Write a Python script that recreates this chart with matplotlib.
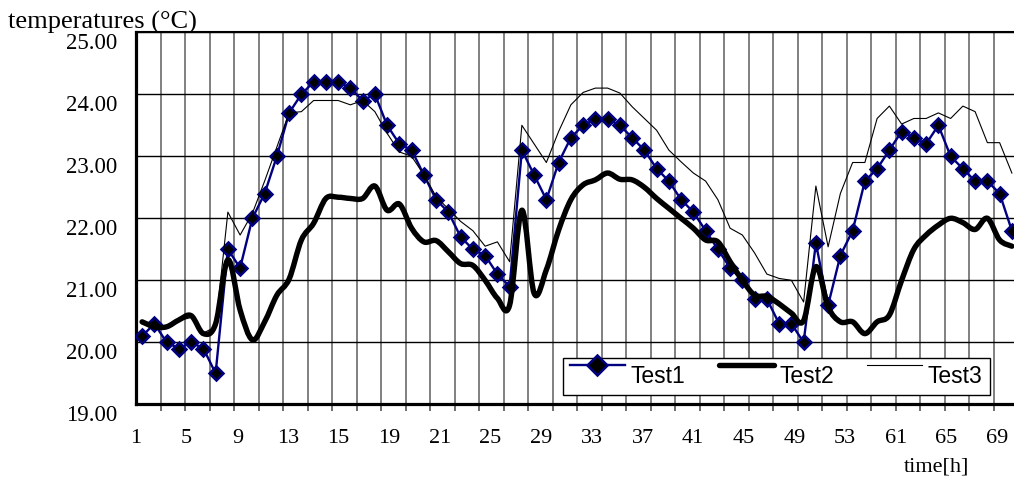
import numpy as np
import matplotlib
matplotlib.use("Agg")
import matplotlib.pyplot as plt
from matplotlib.path import Path
from matplotlib.patches import PathPatch
from matplotlib.lines import Line2D
from matplotlib.legend_handler import HandlerLine2D
from matplotlib.transforms import ScaledTranslation

# ---------------- data ----------------
hour_index = np.arange(72)  # category positions (one per measurement)

test1 = [20.1, 20.3, 20.0, 19.9, 20.0, 19.9, 19.5, 21.5, 21.2, 22.0,
         22.4, 23.0, 23.7, 24.0, 24.2, 24.2, 24.2, 24.1, 23.9, 24.0,
         23.5, 23.2, 23.1, 22.7, 22.3, 22.1, 21.7, 21.5, 21.4, 21.1,
         20.9, 23.1, 22.7, 22.3, 22.9, 23.3, 23.5, 23.6, 23.6, 23.5,
         23.3, 23.1, 22.8, 22.6, 22.3, 22.1, 21.8, 21.5, 21.2, 21.0,
         20.7, 20.7, 20.3, 20.3, 20.0, 21.6, 20.6, 21.4, 21.8, 22.6,
         22.8, 23.1, 23.4, 23.3, 23.2, 23.5, 23.0, 22.8, 22.6, 22.6,
         22.4, 21.8]

test2 = [20.33, 20.25, 20.25, 20.36, 20.43, 20.14, 20.30, 21.33, 20.52, 20.04,
         20.33, 20.76, 21.02, 21.65, 21.92, 22.32, 22.34, 22.32, 22.32, 22.52,
         22.13, 22.23, 21.84, 21.62, 21.64, 21.46, 21.27, 21.24, 21.00, 20.71,
         20.60, 22.13, 20.79, 21.17, 21.81, 22.30, 22.54, 22.62, 22.73, 22.63,
         22.62, 22.50, 22.32, 22.16, 22.00, 21.84, 21.65, 21.62, 21.30, 21.00,
         20.76, 20.74, 20.62, 20.47, 20.35, 21.22, 20.57, 20.33, 20.33, 20.14,
         20.33, 20.44, 21.00, 21.50, 21.73, 21.89, 22.00, 21.93, 21.82, 22.00,
         21.65, 21.55]

test3 = [20.30, 20.25, 20.25, 20.35, 20.40, 20.15, 20.25, 22.10, 21.73, 22.08,
         22.60, 23.15, 23.70, 23.72, 23.90, 23.90, 23.90, 23.83, 23.90, 23.72,
         23.37, 23.07, 23.00, 22.70, 22.35, 22.15, 21.95, 21.80, 21.55, 21.62,
         21.30, 23.50, 23.20, 22.90, 23.40, 23.83, 24.03, 24.10, 24.10, 24.02,
         23.80, 23.61, 23.42, 23.10, 22.91, 22.73, 22.60, 22.30, 21.84, 21.73,
         21.44, 21.10, 21.03, 21.00, 20.65, 22.52, 21.54, 22.40, 22.90, 22.90,
         23.61, 23.81, 23.52, 23.61, 23.61, 23.70, 23.61, 23.81, 23.72, 23.22,
         23.22, 22.73]

x_tick_labels = ['1', '5', '9', '13', '15', '19', '21', '25', '29', '33',
                 '37', '41', '45', '49', '53', '61', '65', '69']
y_tick_values = [19, 20, 21, 22, 23, 24, 25]
series_names = ['Test1', 'Test2', 'Test3']

# ---------------- figure ----------------
SERIF = ['Liberation Serif', 'DejaVu Serif']
SANS = ['Liberation Sans', 'DejaVu Sans']

fig = plt.figure(figsize=(10.14, 4.9), dpi=100)
ax = fig.add_axes([136 / 1014, (490 - 404.3) / 490, 878 / 1014, 372 / 490])
ax.set_facecolor('white')

NAVY = '#000080'

# Test1
ax.plot(hour_index, test1, color=NAVY, lw=1.7, marker='D', ms=7.3,
        mfc='black', mec=NAVY, mew=1.8, zorder=3)


# Test2 : smoothed (Catmull-Rom / Bezier) thick black line
def smooth_path(xs, ys):
    pts = np.column_stack([np.asarray(xs, float), np.asarray(ys, float)])
    n = len(pts)
    verts = [pts[0]]
    codes = [Path.MOVETO]
    for i in range(n - 1):
        p0 = pts[i - 1] if i > 0 else pts[i]
        p1 = pts[i]
        p2 = pts[i + 1]
        p3 = pts[i + 2] if i + 2 < n else pts[i + 1]
        c1 = p1 + (p2 - p0) / 6.0
        c2 = p2 - (p3 - p1) / 6.0
        verts += [c1, c2, p2]
        codes += [Path.CURVE4] * 3
    return Path(verts, codes)


ax.add_patch(PathPatch(smooth_path(hour_index, test2), facecolor='none',
                       edgecolor='black', lw=3.9, capstyle='round',
                       joinstyle='round', zorder=4, transform=ax.transData))

# Test3
ax.plot(hour_index, test3, color='black', lw=0.8, zorder=5)

# ---------------- axes ----------------
ax.set_xlim(-0.5, -0.5 + 878 / 12.25)
ax.set_ylim(19, 25)

ax.set_xticks(np.arange(-0.5, 71.5, 2), minor=True)
ax.set_xticks(np.linspace(-0.5, 69.8, len(x_tick_labels)))
ax.set_xticklabels(x_tick_labels, fontfamily=SERIF, fontsize=16)
ax.set_yticks(y_tick_values)
ax.set_yticklabels([f'{v:.2f}' for v in y_tick_values], fontfamily=SERIF,
                   fontsize=16.5)

ax.tick_params(axis='x', which='major', length=0, pad=18)
ax.tick_params(axis='x', which='minor', length=5, width=1.2,
               direction='out', color='#555555')
ax.tick_params(axis='y', which='major', length=0, pad=13.5)

ax.grid(axis='x', which='minor', color='#808080', lw=1.4)
ax.grid(axis='y', which='major', color='black', lw=1.0)
ax.set_axisbelow(True)

for lbl in ax.get_yticklabels():
    lbl.set_transform(lbl.get_transform() +
                      ScaledTranslation(0, -8.5 / 100, fig.dpi_scale_trans))

ax.spines['right'].set_visible(False)
ax.spines['left'].set_linewidth(2.3)
ax.spines['bottom'].set_linewidth(2.3)
ax.spines['top'].set_linewidth(1.5)

# ---------------- texts ----------------
fig.text(8 / 1014, 1 - 29 / 490, 'temperatures (°C)', fontfamily=SERIF,
         fontsize=19, ha='left', va='baseline', zorder=-1)
fig.text(937 / 1014, 1 - 467 / 490, 'time[h]', fontfamily=SERIF,
         fontsize=16, ha='center', va='center')


# ---------------- legend ----------------
class UpHandler(HandlerLine2D):
    def create_artists(self, legend, orig_handle, xdescent, ydescent,
                       width, height, fontsize, trans):
        return super().create_artists(legend, orig_handle, xdescent,
                                      ydescent - 0.9 * fontsize, width,
                                      height, fontsize, trans)


h1 = Line2D([], [], color=NAVY, lw=1.7, marker='D', ms=10, mfc='black',
            mec=NAVY, mew=1.8)
h2 = Line2D([], [], color='black', lw=3.9, solid_capstyle='round')
h3 = Line2D([], [], color='black', lw=0.8)
leg = ax.legend([h1, h2, h3], series_names, ncol=3, loc='lower left',
                bbox_to_anchor=((563 - 136) / 878, (404.3 - 395) / 372),
                borderaxespad=0, prop={'family': SANS, 'size': 16.5},
                handlelength=2.4, handletextpad=0.25, columnspacing=1.45,
                borderpad=0.3, numpoints=1, fancybox=False, framealpha=1,
                edgecolor='black',
                handler_map={Line2D: UpHandler(numpoints=1)})
leg.get_frame().set_linewidth(1.0)
leg.set_zorder(10)

fig.savefig('out.png', dpi=100)
